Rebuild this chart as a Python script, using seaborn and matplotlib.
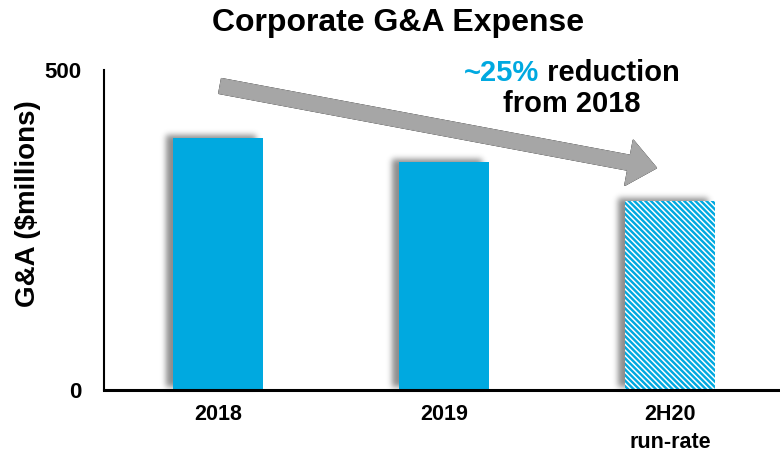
import numpy as np
import pandas as pd
import matplotlib
matplotlib.use("Agg")
import matplotlib.pyplot as plt
import seaborn as sns
from matplotlib.patches import FancyArrowPatch, Rectangle, ArrowStyle

# --- data -------------------------------------------------------------
periods = ["2018", "2019", "2H20\nrun-rate"]
ga_expense = [394, 356, 295]          # $ millions
y_ticks = [0, 500]

CYAN = "#00A9E0"
GRAY = "#A6A6A6"


# --- soft drop shadow used as an agg filter -----------------------------
def _blur(a, sigma):
    r = max(1, int(3 * sigma))
    x = np.arange(-r, r + 1)
    k = np.exp(-x ** 2 / (2.0 * sigma ** 2))
    k /= k.sum()
    h, w = a.shape
    p = np.pad(a, r)
    tmp = sum(k[i] * p[i:i + h, :] for i in range(len(k)))
    return sum(k[i] * tmp[:, i:i + w] for i in range(len(k)))


class DropShadow:
    def __init__(self, sigma, dx, dy, alpha):
        self.sigma, self.dx, self.dy, self.alpha = sigma, dx, dy, alpha

    def __call__(self, im, dpi):
        pad = int(3 * self.sigma) + max(abs(self.dx), abs(self.dy)) + 2
        a = np.pad(im[..., 3], pad)
        a = np.roll(a, self.dx, axis=1)
        a = np.roll(a, -self.dy, axis=0)
        a = _blur(a, self.sigma)
        out = np.zeros(a.shape + (4,), dtype=float)
        out[..., 3] = np.clip(a * self.alpha, 0, 1)
        return out, -pad, -pad


# --- figure -------------------------------------------------------------
sns.set_theme(style="white")
plt.rcParams["font.family"] = ["Liberation Sans", "DejaVu Sans"]
plt.rcParams["font.weight"] = "bold"
plt.rcParams["hatch.linewidth"] = 1.75
for key in ("text.color", "axes.labelcolor", "xtick.color", "ytick.color"):
    plt.rcParams[key] = "black"

fig = plt.figure(figsize=(7.8, 4.55), dpi=100)
ax = fig.add_axes([104 / 780, 1 - 390 / 455, 1 - 104 / 780, 320 / 455])

df = pd.DataFrame({"period": periods, "expense": ga_expense})
sns.barplot(data=df, x="period", y="expense", color=CYAN, saturation=1,
            width=0.4, linewidth=0, ax=ax, zorder=2)

bars = list(ax.patches)
for b in bars:
    sh = Rectangle(b.get_xy(), b.get_width(), b.get_height(),
                   facecolor="black", edgecolor="none", zorder=1.5)
    sh.set_agg_filter(DropShadow(sigma=3, dx=-7, dy=3, alpha=0.45))
    ax.add_patch(sh)

# run-rate bar drawn as a hatched estimate
rr = bars[2]
rr.set_facecolor("white")
rr.set_edgecolor(CYAN)
rr.set_hatch("\\\\\\\\\\\\")
rr.set_linewidth(0)

# axes styling
ax.set_ylim(0, 500)
ax.set_xlim(-0.504, 2.487)
ax.set_yticks(y_ticks)
ax.tick_params(axis="both", length=0)
ax.tick_params(axis="x", labelsize=15.5, pad=10, labelcolor="black")
ax.tick_params(axis="y", labelsize=16, pad=16, labelcolor="black")
for lab in ax.get_xticklabels():
    lab.set_linespacing(1.45)
    lab.set_verticalalignment("top")
sns.despine(ax=ax)
ax.spines["left"].set_linewidth(1.5)
ax.spines["bottom"].set_linewidth(2.2)
for s in ("left", "bottom"):
    ax.spines[s].set_color("black")
ax.set_xlabel("")
ax.set_ylabel(r"G&A (\$millions)", fontsize=20, fontweight="bold",
              color="black")
ax.yaxis.set_label_coords(-0.093, 0.581)

# trend arrow with a soft shadow
start = (0.01, 475)
end = (1.94, 347)
style = ArrowStyle.Simple(head_length=20, head_width=33, tail_width=10.8)
arrow_shadow = FancyArrowPatch(start, end, arrowstyle=style, mutation_scale=1,
                               shrinkA=0, shrinkB=0, color="black", zorder=2.9)
arrow_shadow.set_agg_filter(DropShadow(sigma=3, dx=-2, dy=-3, alpha=0.28))
ax.add_patch(arrow_shadow)
arrow = FancyArrowPatch(start, end, arrowstyle=style, mutation_scale=1,
                        shrinkA=0, shrinkB=0, color=GRAY, zorder=3)
ax.add_patch(arrow)

# annotation text
line1 = fig.text(572 / 780, 1 - 73 / 455, "~25% reduction", fontsize=21,
                 fontweight="bold", ha="center", va="center", alpha=0)
ax.annotate("~25%", xy=(0, 0), xycoords=line1, ha="left", va="bottom",
            fontsize=21, fontweight="bold", color=CYAN)
ax.annotate(" reduction", xy=(1, 0), xycoords=line1, ha="right", va="bottom",
            fontsize=21, fontweight="bold", color="black")
fig.text(572 / 780, 1 - 104 / 455, "from 2018", fontsize=21,
         fontweight="bold", ha="center", va="center", color="black")

fig.text(398 / 780, 1 - 23 / 455, "Corporate G&A Expense", fontsize=23,
         fontweight="bold", ha="center", va="center", color="black")

fig.savefig("out.png", dpi=100)
